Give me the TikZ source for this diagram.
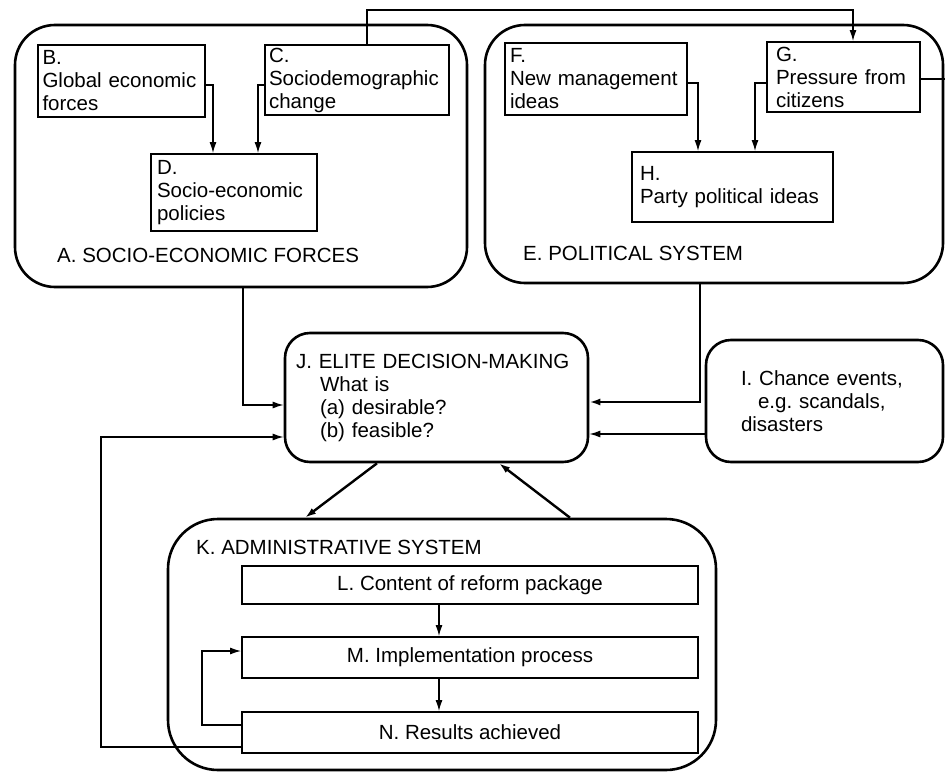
\documentclass[tikz,border=0pt]{standalone}
\usepackage{fontspec}
\setmainfont{Liberation Sans}
\usetikzlibrary{arrows.meta}

\begin{document}
\begin{tikzpicture}[x=1pt, y=-1pt,
    every node/.style={font=\fontsize{20.5}{23}\selectfont},
    group/.style={draw, line width=2.6pt, rounded corners=#1, inner sep=0pt},
    rbox/.style={draw, line width=2.6pt, rounded corners=25pt, align=left, inner ysep=0pt},
    box/.style={draw, line width=1.8pt, align=left, inner ysep=0pt},
    lab/.style={anchor=base west, inner sep=0pt},
    conn/.style={line width=1.4pt},
    arr/.style={conn, -{Latex[length=11pt,width=7pt]}},
    barr/.style={arr, line width=2.4pt}]
  \useasboundingbox (0,0) rectangle (945,771);

  \node[group=40pt, minimum width=452pt, minimum height=262pt] (A) at (241,156) {};
  \node[lab] (Alab) at (57,262) {A. SOCIO-ECONOMIC FORCES};
  \node[box, inner xsep=4.5pt, text width=158pt, minimum height=72pt] (B) at (121.5,81)
    {B.\\Global economic\\forces};
  \node[box, inner xsep=4pt, text width=176pt, minimum height=70pt] (C) at (357,80)
    {C.\\Sociodemographic\\change};
  \node[box, inner xsep=6pt, text width=154pt, minimum height=77pt] (D) at (234,192.5)
    {D.\\Socio-economic\\policies};

  \node[group=40pt, minimum width=458pt, minimum height=258pt] (E) at (714,154) {};
  \node[lab] (Elab) at (523,260) {E. POLITICAL SYSTEM};
  \node[box, inner xsep=5pt, text width=172pt, minimum height=72pt] (F) at (596,79)
    {F.\\New management\\ideas};
  \node[box, inner xsep=9pt, text width=135pt, minimum height=70pt] (G) at (843.5,77)
    {G.\\Pressure from\\citizens};
  \node[box, inner xsep=8pt, text width=185pt, minimum height=70pt] (H) at (732.5,187)
    {H.\\Party political ideas};

  \node[rbox, inner xsep=11pt, text width=281pt, minimum height=129pt] (J) at (436.5,397.5)
    {J. ELITE DECISION-MAKING\\\hspace*{24pt}What is\\\hspace*{24pt}(a) desirable?\\\hspace*{24pt}(b) feasible?};
  \node[rbox, inner xsep=35pt, text width=167pt, minimum height=122pt] (I) at (824.5,401)
    {I. Chance events,\\\hspace*{17pt}e.g.\ scandals,\\disasters};

  \node[group=50pt, minimum width=548pt, minimum height=251pt] (K) at (442,644.5) {};
  \node[lab] (Klab) at (196,554) {K. ADMINISTRATIVE SYSTEM};
  \node[box, align=center, minimum width=456pt, minimum height=38pt] (L) at (470,585)
    {L. Content of reform package};
  \node[box, align=center, minimum width=456pt, minimum height=41pt] (M) at (470,657.5)
    {M. Implementation process};
  \node[box, align=center, minimum width=456pt, minimum height=41pt] (N) at (470,732.5)
    {N. Results achieved};

  \draw[arr] ([yshift=-4pt]B.east) -| ([xshift=-21pt]D.north);
  \draw[arr] ([yshift=-5pt]C.west) -| ([xshift=24pt]D.north);
  \draw[arr] ([yshift=-4pt]F.east) -| ([xshift=-34.5pt]H.north);
  \draw[arr] ([yshift=-6pt]G.west) -| ([xshift=22.5pt]H.north);

  \coordinate (top) at (0,10);
  \coordinate (ct) at ([xshift=10pt]C.north);
  \coordinate (gt) at ([xshift=9.5pt]G.north);
  \draw[arr] (ct) -- (ct |- top) -| (gt);
  \coordinate (gr) at (945,79);
  \draw[conn] ([yshift=-2pt]G.east) -- (gr);

  \draw[arr] ([xshift=2pt]A.south) |- ([yshift=-7.5pt]J.west);
  \draw[barr] ([xshift=-14pt]E.south) |- ([yshift=-4.5pt]J.east);
  \coordinate (iw) at ([yshift=-33pt]I.west);
  \draw[arr] (iw) -- (iw -| J.east);

  \draw[barr] ([xshift=-59.5pt]J.south) -- ([xshift=-137pt]K.north);
  \draw[barr] ([xshift=128pt]K.north) -- ([xshift=62.5pt]J.south);

  \draw[arr] ([xshift=-31pt]L.south) -- ([xshift=-31pt]M.north);
  \draw[arr] ([xshift=-31pt]M.south) -- ([xshift=-31pt]N.north);

  \coordinate (fb) at (101,437);
  \draw[arr] ([yshift=-14.5pt]N.west) -| (fb) -- ([yshift=-39.5pt]J.west);
  \coordinate (mb) at (202,651);
  \draw[arr] ([yshift=7.5pt]N.west) -| (mb) -- ([yshift=6.5pt]M.west);
\end{tikzpicture}
\end{document}
